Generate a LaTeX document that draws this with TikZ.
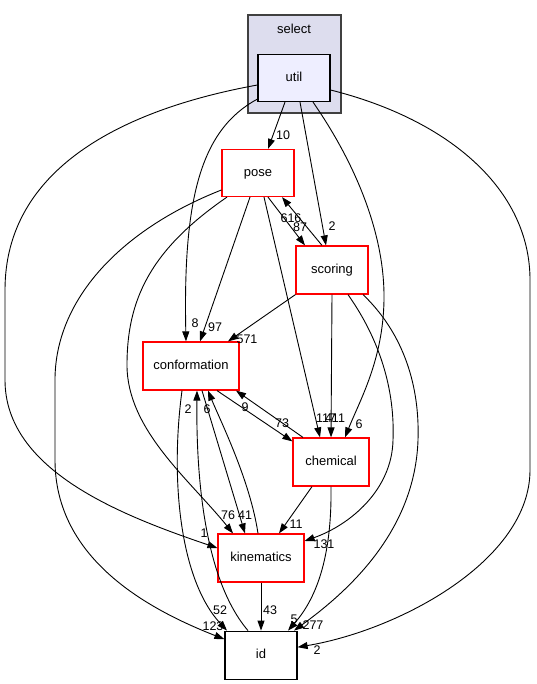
\documentclass[tikz,border=0pt]{standalone}
\usepackage{fontspec}
\setmainfont{Liberation Sans}
\usetikzlibrary{arrows.meta,positioning}
\definecolor{clusterfill}{HTML}{DDDDEE}
\definecolor{clusterline}{HTML}{404040}
\definecolor{utilfill}{HTML}{EEEEFF}

\begin{document}
\begin{tikzpicture}
  [->,>={Triangle[length=10pt,width=7pt]},x=1pt,y=-1pt,line width=0.9pt,
	dir node/.style={rectangle,draw=red,fill=white,line width=1.2pt,
  font=\fontsize{13}{15}\selectfont,minimum width=72pt,minimum height=47pt,
  inner sep=0pt,text height=9.5pt,text depth=2pt},
	top node/.style={dir node,draw=black,fill=utilfill},
	cluster/.style={rectangle,draw=clusterline,fill=clusterfill,line width=1.2pt,
  minimum width=93pt,minimum height=98pt,inner sep=0pt},
	count/.style={font=\fontsize{12.5}{14}\selectfont,inner sep=0pt}]

  \useasboundingbox (0,0) rectangle (536,684);

  \node[cluster] (select) at (294.5,64) {};
  \node[font=\fontsize{13}{15}\selectfont,inner sep=0pt] (selectname) at (294,28.7) {select};
  \node[top node] (util) at (294,78) {util};
  \node[dir node] (pose) at (258,173) {pose};
  \node[dir node,minimum height=48pt] (scoring) at (332,270) {scoring};
  \node[dir node,minimum width=96pt,minimum height=48pt] (conformation) at (191,366) {conformation};
  \node[dir node,minimum width=76pt,minimum height=48pt] (chemical) at (331,462) {chemical};
  \node[dir node,minimum width=86pt,minimum height=48pt] (kinematics) at (261,558) {kinematics};
  \node[top node,fill=white,minimum height=48pt] (id) [below=48pt of kinematics] {id};

  % util
  \draw ([xshift=-9pt]util.south) -- ([xshift=10pt]pose.north)
    node[count] (u10) at (283,135) {10};
  \draw ([yshift=3pt]util.south west) .. controls (200,130) and (183,200) .. ([xshift=-5pt]conformation.north)
    node[count] (u8) at (195,323) {8};
  \draw ([xshift=6pt]util.south) -- ([xshift=-6pt]scoring.north)
    node[count] (u2s) at (332,226) {2};
  \draw ([xshift=19pt]util.south) .. controls (360,170) and (385,240) .. (384,300)
    .. controls (383,360) and (360,400) .. ([xshift=14pt]chemical.north)
    node[count] (u6) at (359,424) {6};
  \draw ([yshift=-7pt]util.west) .. controls (120,110) and (5,170) .. (5,290) -- (5,380)
    .. controls (5,470) and (120,515) .. ([yshift=10pt]kinematics.west)
    node[count] (u1) at (204,533) {1};
  \draw ([yshift=-12pt]util.east) .. controls (450,120) and (530,190) .. (530,280) -- (530,470)
    .. controls (530,560) and (400,630) .. ([yshift=8pt]id.east)
    node[count] (u2i) at (317,650) {2};

  % pose and scoring
  \draw ([xshift=10pt]pose.south) -- ([xshift=-27pt]scoring.north)
    node[count] (p87) at (300,227) {87};
  \draw ([xshift=-10pt]scoring.north) -- ([xshift=24pt]pose.south)
    node[count] (s616) at (291,218) {616};
  \draw ([xshift=-8pt]pose.south) -- ([xshift=9pt]conformation.north)
    node[count] (p97) at (215,327) {97};
  \draw ([xshift=6pt]pose.south) -- ([xshift=-11pt]chemical.north)
    node[count] (p117) at (326,418) {117};
  \draw ([xshift=-31pt]pose.south) .. controls (150,250) and (127,300) .. (127,365)
    .. controls (127,430) and (190,480) .. ([xshift=-28pt]kinematics.north)
    node[count] (p76) at (228,515) {76};
  \draw ([yshift=-17pt]pose.west) .. controls (120,230) and (55,300) .. (55,380) -- (55,460)
    .. controls (55,560) and (150,610) .. ([yshift=16pt]id.west)
    node[count] (p123) at (213,626) {123};
  \draw (scoring.south west) -- ([xshift=37pt]conformation.north)
    node[count] (s571) at (247,339) {571};
  \draw (scoring.south) -- (chemical.north)
    node[count] (s411) at (335,418) {411};
  \draw ([xshift=16pt]scoring.south) .. controls (380,340) and (395,390) .. (393,440)
    .. controls (392,490) and (350,525) .. ([yshift=17pt]kinematics.east)
    node[count] (s131) at (324,544) {131};
  \draw ([xshift=31pt]scoring.south) .. controls (400,330) and (420,380) .. (418,440)
    .. controls (415,530) and (350,590) .. ([xshift=33pt]id.north)
    node[count] (s277) at (313,625) {277};

  % conformation, chemical, kinematics
  \draw ([xshift=26pt]conformation.south) -- ([yshift=-4pt]chemical.north west)
    node[count] (c73) at (282,423) {73};
  \draw ([xshift=-28pt]chemical.north) -- ([xshift=45pt]conformation.south)
    node[count] (h9) at (245,407) {9};
  \draw ([xshift=-19pt]chemical.south) -- ([xshift=18pt]kinematics.north)
    node[count] (h11) at (296,524) {11};
  \draw (chemical.south) .. controls (332,560) and (315,600) .. ([xshift=27pt]id.north)
    node[count] (h5) at (294,619) {5};
  \draw ([xshift=-3pt]kinematics.north) .. controls (250,480) and (220,420) .. ([xshift=17pt]conformation.south)
    node[count] (k6) at (207,409) {6};
  \draw ([xshift=11pt]conformation.south) -- ([xshift=-16pt]kinematics.north)
    node[count] (c41) at (245,515) {41};
  \draw ([xshift=-9pt]conformation.south) .. controls (170,480) and (180,580) .. ([xshift=-34pt]id.north)
    node[count] (c52) at (220,610) {52};
  \draw ([xshift=-13pt]id.north) .. controls (205,580) and (196,480) .. ([xshift=6pt]conformation.south)
    node[count] (i2) at (188,409) {2};
  \draw (kinematics.south) -- (id.north)
    node[count] (k43) at (270,610) {43};
\end{tikzpicture}
\end{document}
